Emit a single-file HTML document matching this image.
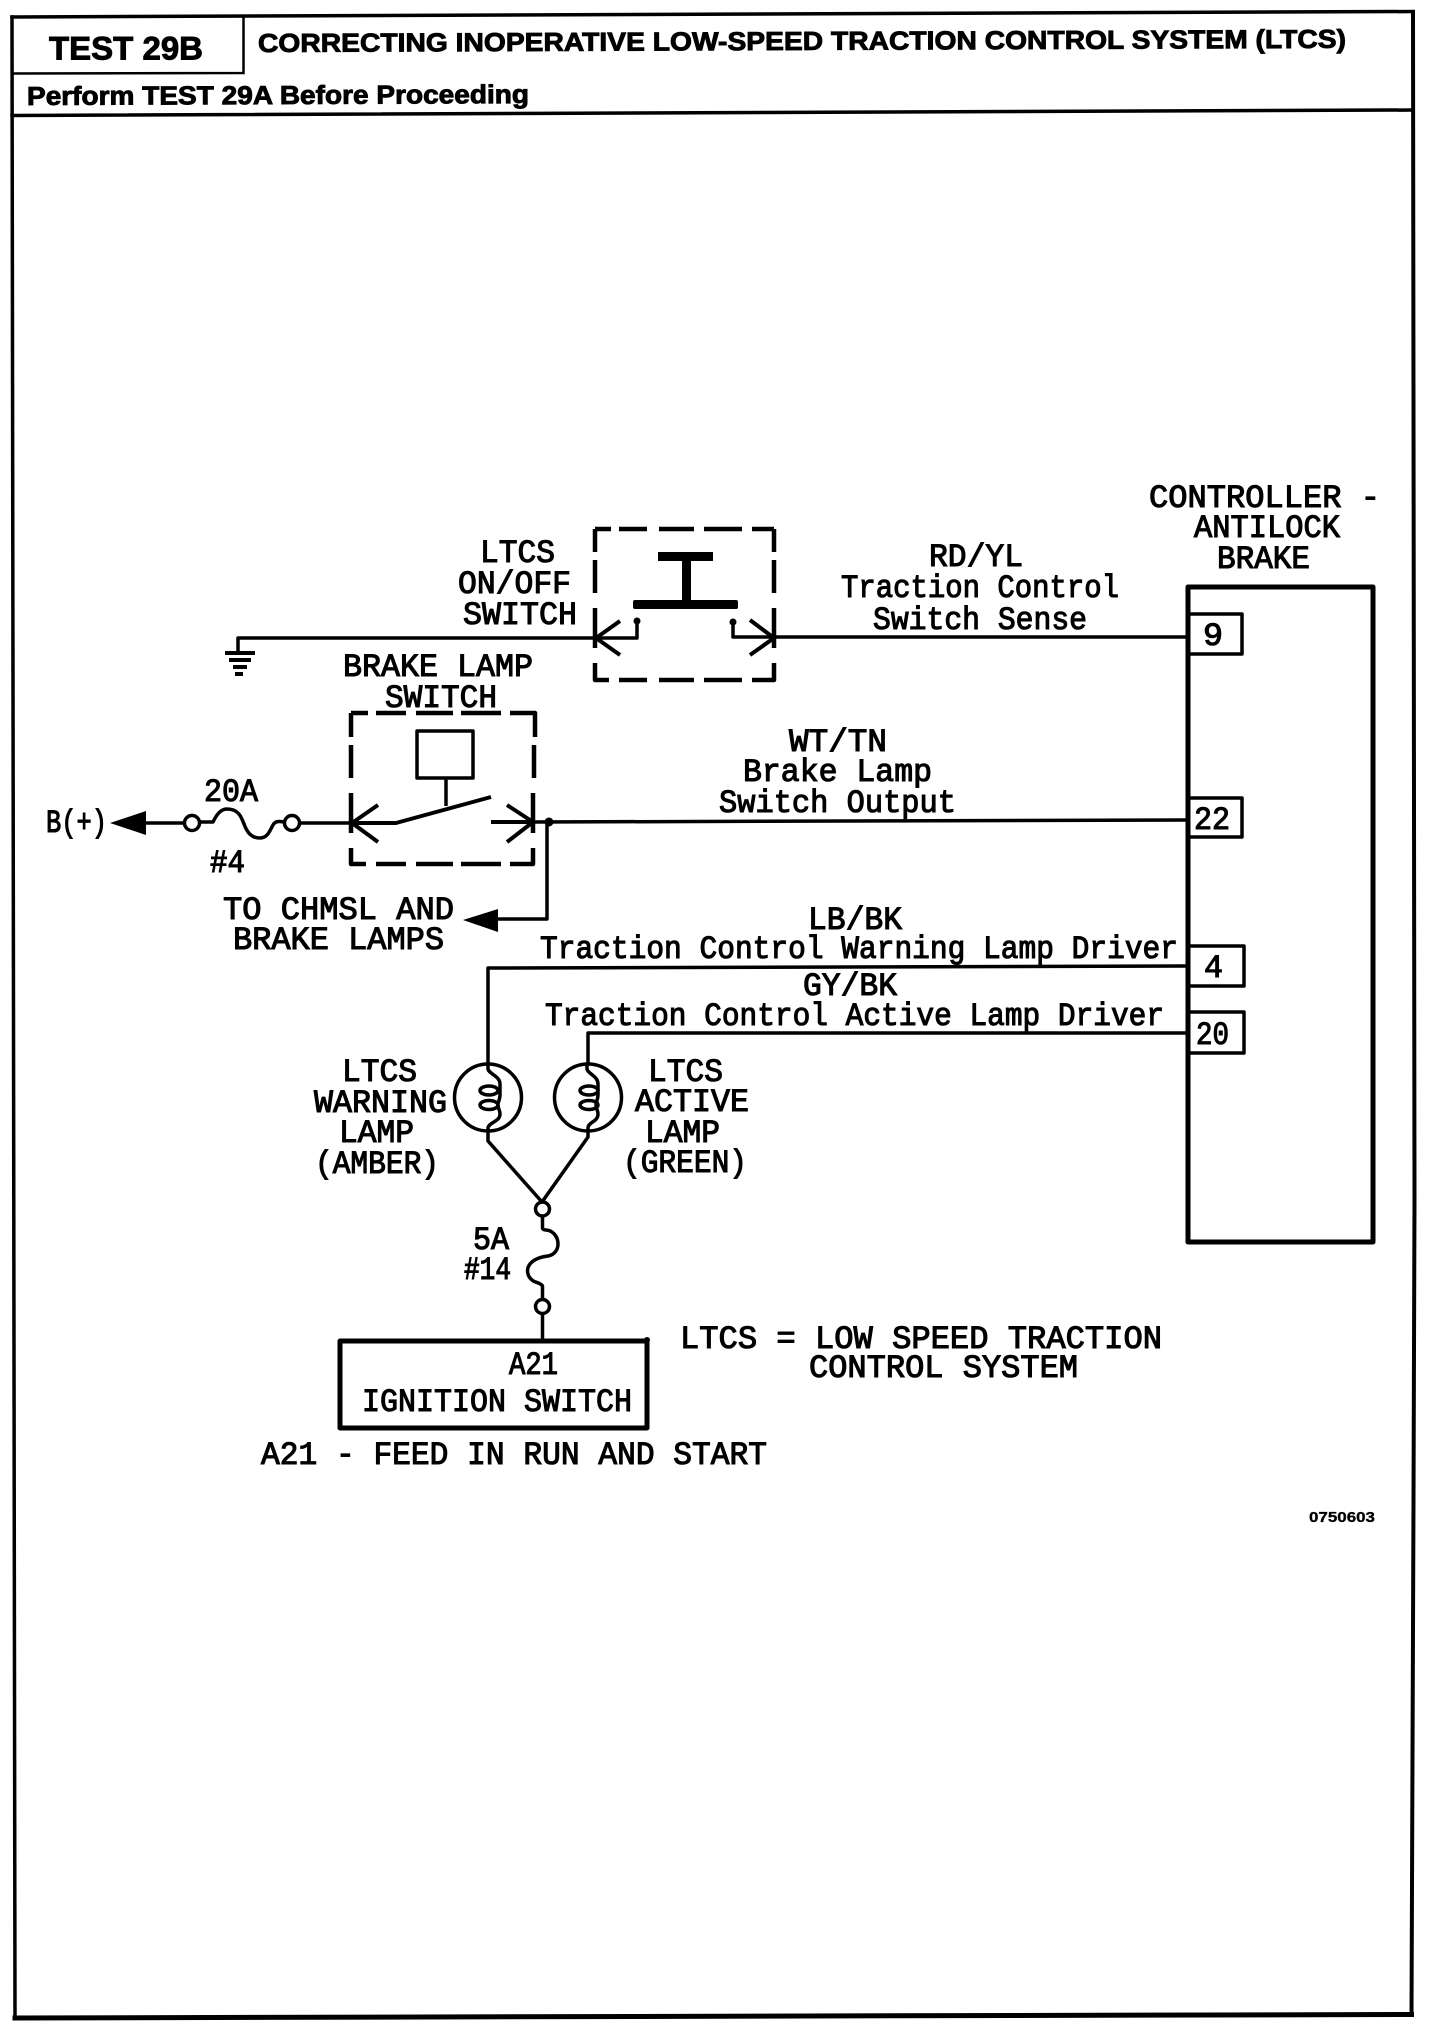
<!DOCTYPE html>
<html><head><meta charset="utf-8"><title>TEST 29B</title>
<style>
html,body{margin:0;padding:0;background:#fff}
svg{display:block}
.m{font-family:"Liberation Mono",monospace;font-size:32px;fill:#000;stroke:#000;stroke-width:1.1px}
.h{font-family:"Liberation Sans",sans-serif;font-weight:bold;fill:#000;stroke:#000;stroke-width:.9px}
</style></head><body>
<svg xmlns="http://www.w3.org/2000/svg" width="1440" height="2024" viewBox="0 0 1440 2024">
<rect width="1440" height="2024" fill="#fff"/>
<!-- frame -->
<g fill="none" stroke="#000" stroke-linecap="square">
<path d="M12 17L15 2018" stroke-width="3.500"/>
<path d="M1413 12L1414.500 1200L1413.500 1500L1411.500 2015" stroke-width="4"/>
<path d="M12 17L1413 11.500" stroke-width="3.500"/>
<path d="M15 2018L1411.500 2014.500" stroke-width="5"/>
<path d="M12 115.500L1413 110" stroke-width="3.500"/>
<path d="M243.500 17V73L12 73.500" stroke-width="2.500"/>
</g>
<text class="h" x="49" y="59.500" font-size="32" textLength="154" lengthAdjust="spacingAndGlyphs">TEST 29B</text>
<text class="h" x="258" y="52" font-size="26" textLength="1088" lengthAdjust="spacingAndGlyphs" transform="rotate(-0.22 258 52)">CORRECTING INOPERATIVE LOW-SPEED TRACTION CONTROL SYSTEM (LTCS)</text>
<text class="h" x="27" y="105" font-size="26" textLength="502" lengthAdjust="spacingAndGlyphs" transform="rotate(-0.22 27 105)">Perform TEST 29A Before Proceeding</text>

<!-- controller -->
<g fill="none" stroke="#000" stroke-linejoin="round">
<rect x="1188" y="587" width="185" height="655" stroke-width="5"/>
<g stroke-width="3.500">
<path d="M1188 614H1242V654H1188"/>
<path d="M1188 798H1242V837H1188"/>
<path d="M1188 946H1244V986H1188"/>
<path d="M1188 1012H1244V1053H1188"/>
</g>
<!-- wires to controller -->
<g stroke-width="3.500">
<path d="M774 637H1188"/>
<path d="M533 822L1188 820"/>
<path d="M488 1064V968L1188 966"/>
<path d="M588 1064V1033H1188"/>
</g>
<!-- LTCS switch -->
<path stroke-width="4.500" d="M595 529H611M619 529H647M659 529H694M704 529H742M752 529H774M595 529V552M595 560V593M595 608V648M595 663V680H609M619 680H647M659 680H694M704 680H742M752 680H774V663M774 648V608M774 593V560M774 552V529"/>
<path stroke-width="3.500" d="M238 652V638H595"/>
<path stroke-width="4" d="M225 653H255M229 660H251M233 667H247"/>
<path stroke-width="4" d="M235 674H243"/>
<path stroke-width="4" d="M620 621L596 638L620 655M750 620L774 638L750 655"/>
<path stroke-width="3.500" d="M595 638H637V624M733 624V637H774"/>
<!-- brake switch -->
<path stroke-width="4.500" d="M351 713H368M376 713H406M416 713H453M461 713H501M510 713H535V737M534 745V778M533 793V833M533 848V864H510M501 864H461M453 864H416M406 864H376M366 864H351V848M351 833V793M351 778V745M351 737V713"/>
<rect x="417" y="731" width="56" height="47" stroke-width="3.500"/>
<path stroke-width="3.500" d="M446 778V806"/>
<path stroke-width="4" d="M352 823H396L491 797M491 822H533"/>
<path stroke-width="4" d="M378 805L352 823L378 842M507 805L533 822L507 842"/>
<path stroke-width="3.500" d="M547 821V919H498"/>
<!-- B+ and fuse -->
<path stroke-width="3.500" d="M145 823H184M200 822H213C216 816 220 809 227 809C238 809 241 816 244 824C247 832 251 838 260 838C268 838 270 830 273 825C275 821 279 821 284 822M300 823H352"/>
<circle cx="192" cy="823" r="7.500" stroke-width="3.500"/>
<circle cx="292" cy="823" r="7.500" stroke-width="3.500"/>
<!-- lamps -->
<circle cx="488" cy="1097.500" r="33.500" stroke-width="3.500"/>
<circle cx="588" cy="1097.500" r="33.500" stroke-width="3.500"/>
<g stroke-width="3.500">
<path d="M488 1064V1069C489 1074 500 1076 500 1084V1095C500 1100 498 1101 498 1105C498 1109 500 1110 500 1114C500 1122 489 1122 488 1128V1141L542 1202"/>
<path d="M587 1064V1069C588 1074 598 1076 598 1084V1095C598 1100 596 1101 596 1105C596 1109 598 1110 598 1114C598 1122 588 1122 588 1128V1137L542 1202"/>
<ellipse cx="489" cy="1090.500" rx="9" ry="4.500"/>
<ellipse cx="489" cy="1105" rx="9" ry="4.500"/>
<ellipse cx="589" cy="1090.500" rx="9" ry="4.500"/>
<ellipse cx="589" cy="1105" rx="9" ry="4.500"/>
<circle cx="542.500" cy="1209" r="7"/>
<circle cx="542.500" cy="1306.500" r="7"/>
<path d="M542.500 1216V1228C543 1231 548 1229 552 1232C556 1235 558 1239 558 1244C558 1250 554 1255 548 1256C540 1257 534 1259 530 1264C526 1269 527 1276 532 1280C535 1283 540 1282 542.500 1286V1299M542.500 1314V1340"/>
</g>
<rect x="340" y="1341" width="307" height="87" stroke-width="5"/>
</g>
<!-- filled bits -->
<g fill="#000" stroke="none">
<rect x="658" y="552" width="55" height="9"/>
<rect x="682" y="552" width="9" height="50"/>
<rect x="633" y="600" width="105" height="9" rx="2"/>
<circle cx="637" cy="621" r="3.500"/>
<circle cx="733" cy="622" r="3.500"/>
<circle cx="549" cy="822" r="4.500"/>
<path d="M463 920L498 909V932Z"/>
<path d="M110 823L146 811V835Z"/>
<circle cx="647" cy="1340" r="3"/>
</g>

<!-- labels -->
<text class="m" x="480" y="562" textLength="75" lengthAdjust="spacingAndGlyphs">LTCS</text>
<text class="m" x="458" y="593" textLength="113" lengthAdjust="spacingAndGlyphs">ON/OFF</text>
<text class="m" x="463" y="624" textLength="114" lengthAdjust="spacingAndGlyphs">SWITCH</text>
<text class="m" x="343" y="676" textLength="190" lengthAdjust="spacingAndGlyphs">BRAKE LAMP</text>
<text class="m" x="385" y="707" textLength="112" lengthAdjust="spacingAndGlyphs">SWITCH</text>
<text class="m" x="1149" y="507" textLength="231" lengthAdjust="spacingAndGlyphs">CONTROLLER -</text>
<text class="m" x="1194" y="537" textLength="146" lengthAdjust="spacingAndGlyphs">ANTILOCK</text>
<text class="m" x="1217" y="568" textLength="93" lengthAdjust="spacingAndGlyphs">BRAKE</text>
<text class="m" x="929" y="566" textLength="94" lengthAdjust="spacingAndGlyphs">RD/YL</text>
<text class="m" x="841" y="597" textLength="278" lengthAdjust="spacingAndGlyphs">Traction Control</text>
<text class="m" x="873" y="629" textLength="214" lengthAdjust="spacingAndGlyphs">Switch Sense</text>
<text class="m" x="789" y="751" textLength="98" lengthAdjust="spacingAndGlyphs">WT/TN</text>
<text class="m" x="743" y="781" textLength="189" lengthAdjust="spacingAndGlyphs">Brake Lamp</text>
<text class="m" x="719" y="812" textLength="237" lengthAdjust="spacingAndGlyphs">Switch Output</text>
<text class="m" x="808" y="929" textLength="94" lengthAdjust="spacingAndGlyphs">LB/BK</text>
<text class="m" x="540" y="958" textLength="638" lengthAdjust="spacingAndGlyphs">Traction Control Warning Lamp Driver</text>
<text class="m" x="803" y="995" textLength="94" lengthAdjust="spacingAndGlyphs">GY/BK</text>
<text class="m" x="545" y="1025" textLength="619" lengthAdjust="spacingAndGlyphs">Traction Control Active Lamp Driver</text>
<text class="m" x="1203" y="645" textLength="20" lengthAdjust="spacingAndGlyphs">9</text>
<text class="m" x="1194" y="829" textLength="36" lengthAdjust="spacingAndGlyphs">22</text>
<text class="m" x="1204" y="977" textLength="19" lengthAdjust="spacingAndGlyphs">4</text>
<text class="m" x="1196" y="1044" textLength="33" lengthAdjust="spacingAndGlyphs">20</text>
<text class="m" x="46" y="832" textLength="61" lengthAdjust="spacingAndGlyphs">B(+)</text>
<text class="m" x="204" y="801" textLength="54" lengthAdjust="spacingAndGlyphs">20A</text>
<text class="m" x="210" y="872" textLength="35" lengthAdjust="spacingAndGlyphs">#4</text>
<text class="m" x="223" y="919" textLength="231" lengthAdjust="spacingAndGlyphs">TO CHMSL AND</text>
<text class="m" x="233" y="949" textLength="211" lengthAdjust="spacingAndGlyphs">BRAKE LAMPS</text>
<text class="m" x="342" y="1081" textLength="75" lengthAdjust="spacingAndGlyphs">LTCS</text>
<text class="m" x="314" y="1112" textLength="133" lengthAdjust="spacingAndGlyphs">WARNING</text>
<text class="m" x="339" y="1142" textLength="75" lengthAdjust="spacingAndGlyphs">LAMP</text>
<text class="m" x="315" y="1173" textLength="124" lengthAdjust="spacingAndGlyphs">(AMBER)</text>
<text class="m" x="648" y="1081" textLength="75" lengthAdjust="spacingAndGlyphs">LTCS</text>
<text class="m" x="635" y="1111" textLength="114" lengthAdjust="spacingAndGlyphs">ACTIVE</text>
<text class="m" x="645" y="1142" textLength="75" lengthAdjust="spacingAndGlyphs">LAMP</text>
<text class="m" x="623" y="1172" textLength="124" lengthAdjust="spacingAndGlyphs">(GREEN)</text>
<text class="m" x="473" y="1249" textLength="36" lengthAdjust="spacingAndGlyphs">5A</text>
<text class="m" x="464" y="1279" textLength="47" lengthAdjust="spacingAndGlyphs">#14</text>
<text class="m" x="509" y="1374" textLength="49" lengthAdjust="spacingAndGlyphs">A21</text>
<text class="m" x="362" y="1411" textLength="270" lengthAdjust="spacingAndGlyphs">IGNITION SWITCH</text>
<text class="m" x="261" y="1464" textLength="506" lengthAdjust="spacingAndGlyphs">A21 - FEED IN RUN AND START</text>
<text class="m" x="680" y="1348" textLength="482" lengthAdjust="spacingAndGlyphs">LTCS = LOW SPEED TRACTION</text>
<text class="m" x="809" y="1377" textLength="269" lengthAdjust="spacingAndGlyphs">CONTROL SYSTEM</text>
<text class="h" x="1309" y="1522" font-size="15" textLength="66" lengthAdjust="spacingAndGlyphs" style="stroke-width:.3px">0750603</text>
</svg>
</body></html>
